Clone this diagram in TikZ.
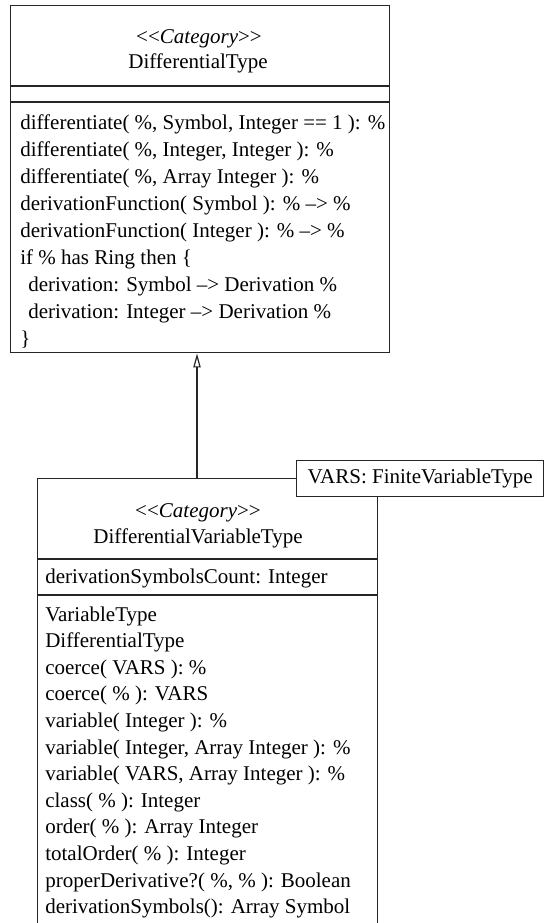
\documentclass[tikz,border=0pt]{standalone}
\usepackage{fontspec}
\setmainfont{Liberation Serif}
\usetikzlibrary{arrows.meta}
\begin{document}
\begin{tikzpicture}[x=0.75pt,y=-0.75pt,
  classbox/.style={draw=black!85, line width=1.1pt, fill=white, inner sep=0pt, anchor=north west},
  sepline/.style={draw=black!85, line width=1.1pt},
  txt/.style={inner sep=0pt, font=\fontsize{15.75}{19}\selectfont},
  mline/.style={txt, anchor=base west},
  nline/.style={txt, anchor=base},
  parambox/.style={draw=black!85, line width=1.1pt, fill=white, inner sep=0pt, anchor=north west,
    font=\fontsize{15.75}{19}\selectfont},
  generalization/.style={draw=black!85, line width=0.9pt,
    -{Triangle[open, length=10.5pt, width=5.5pt, line width=0.9pt]}}
]
\useasboundingbox (0,0) rectangle (547,923);

% ---- DifferentialType ----
\node[classbox, minimum width=284.25pt, minimum height=260.25pt] (dt) at (10,5) {};
\draw[sepline] (10,86) -- (389,86);
\draw[sepline] (10,102) -- (389,102);
\node[nline] (dtstereo) at (199,44) {<\kern0pt<\textit{Category}>\kern0pt>};
\node[nline] (dtname) at (198,69) {DifferentialType};
\foreach \t [count=\i from 0] in {
  {differentiate( \%, Symbol, Integer == 1 ): \%},
  {differentiate( \%, Integer, Integer ): \%},
  {differentiate( \%, Array Integer ): \%},
  {derivationFunction( Symbol ): \% \textendash> \%},
  {derivationFunction( Integer ): \% \textendash> \%},
  {if \% has Ring then \{},
  {\hspace{6pt}derivation: Symbol \textendash> Derivation \%},
  {\hspace{6pt}derivation: Integer \textendash> Derivation \%},
  {\}}}
  \node[mline] (dtop\i) at (20,130+26.9*\i) {\t};

% ---- DifferentialVariableType ----
\node[classbox, minimum width=255pt, minimum height=350pt] (dvt) at (37,478) {};
\draw[sepline] (37,559) -- (377,559);
\draw[sepline] (37,595) -- (377,595);
\node[nline] (dvtstereo) at (198,517) {<\kern0pt<\textit{Category}>\kern0pt>};
\node[nline] (dvtname) at (198,543) {DifferentialVariableType};
\node[mline] (dvtattr) at (45,583) {derivationSymbolsCount: Integer};
\foreach \t [count=\i from 0] in {
  {VariableType},
  {DifferentialType},
  {coerce( VARS ): \%},
  {coerce( \% ): VARS},
  {variable( Integer ): \%},
  {variable( Integer, Array Integer ): \%},
  {variable( VARS, Array Integer ): \%},
  {class( \% ): Integer},
  {order( \% ): Array Integer},
  {totalOrder( \% ): Integer},
  {properDerivative?( \%, \% ): Boolean},
  {derivationSymbols(): Array Symbol}}
  \node[mline] (dvtop\i) at (45,621+26.6*\i) {\t};

% template parameter
\node[parambox, minimum width=185.25pt, minimum height=27pt] (vars) at (296,460) {VARS: FiniteVariableType};

% generalization arrow
\coordinate (gx) at (197,0);
\draw[generalization] (gx |- dvt.north) -- (gx |- dt.south);
\end{tikzpicture}
\end{document}
